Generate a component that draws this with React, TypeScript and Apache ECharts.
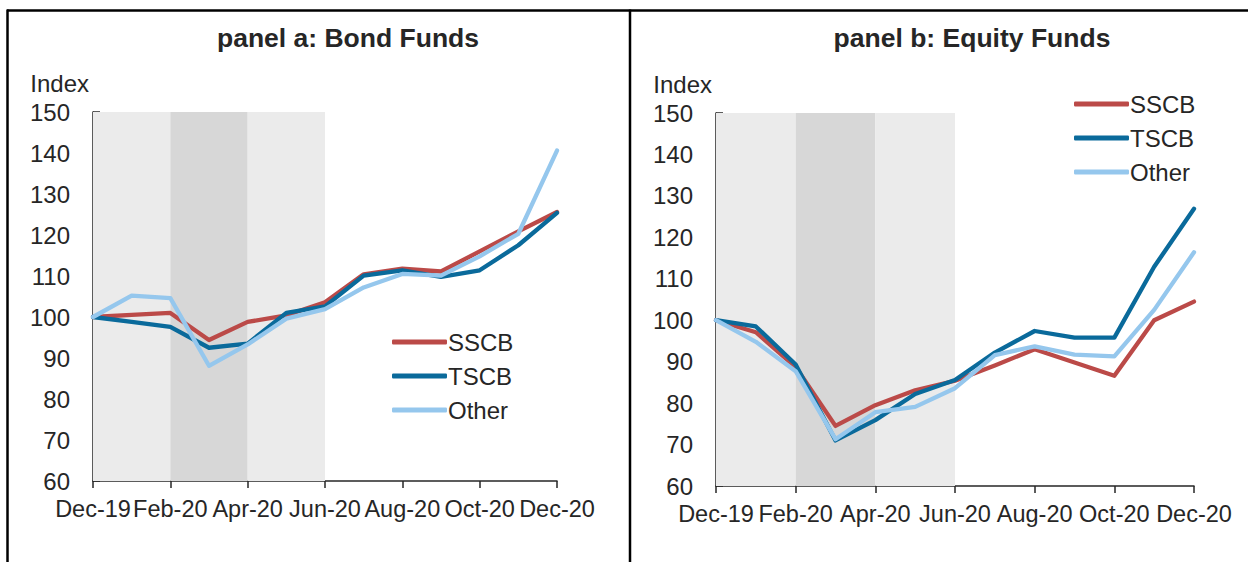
import React, { useEffect, useRef } from "react";
import * as echarts from "echarts";

const months = [
  "Dec-19", "Jan-20", "Feb-20", "Mar-20", "Apr-20", "May-20", "Jun-20",
  "Jul-20", "Aug-20", "Sep-20", "Oct-20", "Nov-20", "Dec-20",
];
const yTicks = [60, 70, 80, 90, 100, 110, 120, 130, 140, 150];

const bondSSCB = [100, 100.5, 101, 94.4, 98.8, 100.4, 103.6, 110.4, 111.8, 111.1, 116, 120.9, 125.6];
const bondTSCB = [100, 98.8, 97.6, 92.5, 93.5, 101, 102.6, 110.1, 111.4, 109.8, 111.4, 117.5, 125.4];
const bondOther = [100, 105.2, 104.6, 88.1, 93.3, 99.6, 101.9, 107.2, 110.5, 110.1, 114.8, 120.3, 140.6];

const eqSSCB = [100, 97.1, 88.7, 74.5, 79.5, 83.1, 85.4, 89.1, 93, 89.8, 86.6, 100, 104.5];
const eqTSCB = [100, 98.5, 89.3, 71, 75.9, 82.2, 85.6, 92.2, 97.4, 95.8, 95.8, 112.9, 126.9];
const eqOther = [100, 94.8, 87.7, 71.3, 77.8, 79.1, 83.6, 91.6, 93.7, 91.7, 91.3, 102.5, 116.4];

const seriesNames = ["SSCB", "TSCB", "Other"];
const colors = ["#bb4a48", "#0a6a9b", "#95c7ed"];

const FONT = "'Liberation Sans', Arial, sans-serif";
const TXT = "#262626";
const FS = 24;

function buildOption() {
  const gridA = { left: 93, top: 112, width: 464, height: 369 };
  const gridB = { left: 716, top: 113, width: 478, height: 373 };

  const xAxis = (gi: number) => ({
    type: "category",
    gridIndex: gi,
    data: months,
    boundaryGap: false,
    axisLine: { lineStyle: { color: TXT, width: 1.5 } },
    axisTick: { show: true, interval: 1, length: 7, inside: false, lineStyle: { color: TXT, width: 1.5 } },
    axisLabel: { interval: 1, color: TXT, fontSize: 23.5, fontFamily: FONT, margin: 16, hideOverlap: false },
    splitLine: { show: false },
  });
  const yAxis = (gi: number) => ({
    type: "value",
    gridIndex: gi,
    min: 60,
    max: 150,
    interval: 10,
    name: "Index",
    nameLocation: "end",
    nameGap: 17,
    nameTextStyle: { color: TXT, fontSize: FS, fontFamily: FONT, align: "right", padding: [0, 4, 0, 0] },
    axisLine: { show: true, lineStyle: { color: TXT, width: 1.5 } },
    axisTick: { show: true, inside: true, length: 7, lineStyle: { color: TXT, width: 1.5 } },
    axisLabel: {
      color: TXT, fontSize: FS, fontFamily: FONT, margin: 23,
      formatter: (v: number) => (yTicks.includes(v) ? String(v) : ""),
    },
    splitLine: { show: false },
  });

  const shade = (gi: number) => ({
    name: "shade" + gi,
    type: "line",
    xAxisIndex: gi,
    yAxisIndex: gi,
    data: months.map(() => null),
    silent: true,
    z: 1,
    markArea: {
      silent: true,
      data: [
        [{ xAxis: "Dec-19", itemStyle: { color: "#ebebeb" } }, { xAxis: "Feb-20" }],
        [{ xAxis: "Feb-20", itemStyle: { color: "#d7d7d7" } }, { xAxis: "Apr-20" }],
        [{ xAxis: "Apr-20", itemStyle: { color: "#ebebeb" } }, { xAxis: "Jun-20" }],
      ],
    },
  });

  const lineSeries = (gi: number, datasets: number[][]) =>
    datasets.map((d, i) => ({
      name: seriesNames[i],
      type: "line",
      xAxisIndex: gi,
      yAxisIndex: gi,
      data: d,
      showSymbol: false,
      symbol: "none",
      z: 3 + i,
      lineStyle: { color: colors[i], width: 4.3, cap: "round", join: "round" },
      itemStyle: { color: colors[i] },
    }));

  const legend = (left: number, top: number) => ({
    orient: "vertical",
    left,
    top,
    data: seriesNames,
    icon: "roundRect",
    itemWidth: 55,
    itemHeight: 5,
    itemGap: 10,
    itemStyle: { borderWidth: 0 },
    textStyle: { color: TXT, fontSize: FS, fontFamily: FONT, padding: [0, 0, 0, -4] },
    selectedMode: false,
  });

  return {
    animation: false,
    backgroundColor: "#ffffff",
    title: [
      {
        text: "panel a: Bond Funds",
        left: 343,
        top: 19,
        textAlign: "center",
        textStyle: { color: TXT, fontSize: 26.5, fontWeight: "bold", fontFamily: FONT },
      },
      {
        text: "panel b: Equity Funds",
        left: 967,
        top: 19,
        textAlign: "center",
        textStyle: { color: TXT, fontSize: 26.5, fontWeight: "bold", fontFamily: FONT },
      },
    ],
    legend: [legend(387, 325), legend(1069, 87)],
    grid: [gridA, gridB],
    xAxis: [xAxis(0), xAxis(1)],
    yAxis: [yAxis(0), yAxis(1)],
    series: [
      shade(0),
      shade(1),
      ...lineSeries(0, [bondSSCB, bondTSCB, bondOther]),
      ...lineSeries(1, [eqSSCB, eqTSCB, eqOther]),
    ],
    graphic: [
      { type: "line", shape: { x1: 7, y1: 10.5, x2: 1248, y2: 10.5 }, style: { stroke: "#000", lineWidth: 2.5 } },
      { type: "line", shape: { x1: 7.5, y1: 9.5, x2: 7.5, y2: 562 }, style: { stroke: "#000", lineWidth: 2.5 } },
      { type: "line", shape: { x1: 630, y1: 9.5, x2: 630, y2: 562 }, style: { stroke: "#000", lineWidth: 2.5 } },
    ],
  };
}

export default function App() {
  const ref = useRef<HTMLDivElement>(null);
  useEffect(() => {
    if (!ref.current) return;
    const chart = echarts.init(ref.current, undefined, { renderer: "svg" });
    chart.setOption(buildOption() as any);
    return () => chart.dispose();
  }, []);
  return (
    <div
      ref={ref}
      style={{ position: "fixed", left: 0, top: 0, width: 1248, height: 562 }}
    />
  );
}
